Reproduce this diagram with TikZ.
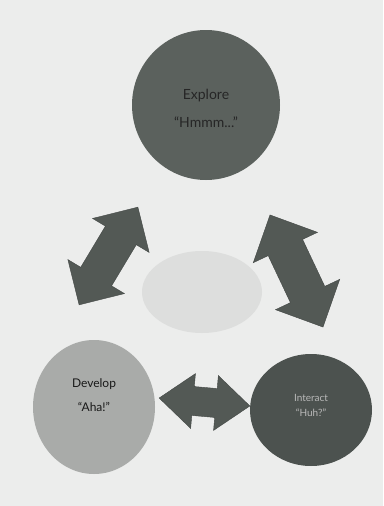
\documentclass[tikz,border=0pt]{standalone}
\usepackage{fontspec}
\setmainfont{Lato}
\usetikzlibrary{shapes.geometric}

\definecolor{paper}{HTML}{ECEDEC}
\definecolor{deepgray}{HTML}{5B615D}
\definecolor{darkgray}{HTML}{4C524F}
\definecolor{softgray}{HTML}{A9ABA9}
\definecolor{palegray}{HTML}{DDDEDD}
\definecolor{arrowgray}{HTML}{535955}

\tikzset{
  stage/.style={ellipse, inner sep=0pt},
  words/.style={align=center, inner sep=0pt},
  twoway/.style={fill=arrowgray, draw=arrowgray!80!black, thin, line join=miter}
}

% block arrow with two heads: centre, angle, length, head half width, shaft half width, head length
\newcommand{\blockarrow}[7]{%
  \begin{scope}[shift={(#1,#2)}, rotate=#3]
    \draw[twoway] (-#4/2,0) -- (-#4/2+#7,#5) -- (-#4/2+#7,#6) -- (#4/2-#7,#6)
      -- (#4/2-#7,#5) -- (#4/2,0) -- (#4/2-#7,-#5) -- (#4/2-#7,-#6)
      -- (-#4/2+#7,-#6) -- (-#4/2+#7,-#5) -- cycle;
  \end{scope}}

\begin{document}
\begin{tikzpicture}[x=1pt,y=-1pt]
% page
\fill[paper] (0,0) rectangle (383,506);
\useasboundingbox (0,0) rectangle (383,506);

% the three stages
\node[stage, fill=deepgray, minimum width=148pt, minimum height=150pt] (explore) at (206,105) {};
\node[words, font=\fontsize{14}{28}\selectfont, text=black!85] (exploretext)
  at ([yshift=-3pt]explore.center) {Explore\\``Hmmm...''};

\node[stage, fill=softgray, minimum width=122pt, minimum height=134pt] (develop) at (94,407) {};
\node[words, font=\fontsize{12}{24}\selectfont, text=black!90] (developtext)
  at ([yshift=12pt]develop.center) {Develop\\``Aha!''};

\node[stage, fill=darkgray, minimum width=122pt, minimum height=112pt] (interact) at (311,410) {};
\node[words, font=\fontsize{10}{15}\selectfont, text=gray!55] (interacttext)
  at ([yshift=5pt]interact.center) {Interact\\``Huh?''};

% centre
\node[stage, fill=palegray, minimum width=120pt, minimum height=82pt] (hub) at (202,292) {};

% arrows between the stages
\blockarrow{108.5}{256}{59}{114}{33}{18}{33}
\blockarrow{296.5}{271}{-64.7}{124}{35.5}{19}{36}
\blockarrow{204.5}{402}{-5}{91}{27.5}{14.5}{34}
\end{tikzpicture}
\end{document}
